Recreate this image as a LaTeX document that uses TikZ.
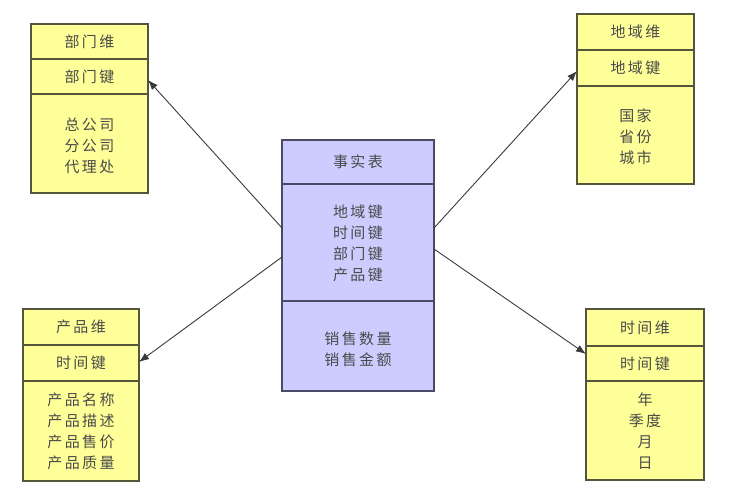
\documentclass[tikz,border=0pt]{standalone}
\usepackage{fontspec}
\newfontfamily\cjk[LetterSpace=16]{Noto Sans CJK SC}
\usetikzlibrary{arrows.meta}
\definecolor{yfill}{HTML}{FFFF99}
\definecolor{yline}{HTML}{55553A}
\definecolor{bfill}{HTML}{CCCCFF}
\definecolor{bline}{HTML}{4A4A66}
\definecolor{txt}{HTML}{4A4A4A}
\definecolor{arr}{HTML}{3A3A3A}
\tikzset{
  ybox/.style={draw=yline, fill=yfill, line width=1.2pt},
  bbox/.style={draw=bline, fill=bfill, line width=1.2pt},
  ydiv/.style={draw=yline, line width=1.2pt},
  bdiv/.style={draw=bline, line width=1.2pt},
  lbl/.style={text=txt, font=\cjk\fontsize{15}{21}\selectfont, align=center, inner sep=0pt},
  conn/.style={draw=arr, line width=0.9pt, -{Latex[length=10pt,width=7.5pt]}}
}
\begin{document}
\begin{tikzpicture}[x=1pt,y=-1pt]
\useasboundingbox (0,0) rectangle (733,499);
% top-left: department dimension
\path[ybox] (31,24) rectangle (148,193);
\draw[ydiv] (31,59) -- (148,59) (31,94) -- (148,94);
\node[lbl] (tlT) at (89.5,41.5) {部门维};
\node[lbl] (tlK) at (89.5,76.5) {部门键};
\node[lbl] (tlB) at (89.5,146) {总公司\\分公司\\代理处};
\coordinate (tlE) at (148,80);
% top-right: region dimension
\path[ybox] (577,14) rectangle (694,184);
\draw[ydiv] (577,50) -- (694,50) (577,86) -- (694,86);
\node[lbl] (trT) at (635.5,32) {地域维};
\node[lbl] (trK) at (635.5,68) {地域键};
\node[lbl] (trB) at (635.5,137) {国家\\省份\\城市};
\coordinate (trE) at (577,71);
% bottom-left: product dimension
\path[ybox] (23,309) rectangle (139,481);
\draw[ydiv] (23,345) -- (139,345) (23,381) -- (139,381);
\node[lbl] (blT) at (81,327) {产品维};
\node[lbl] (blK) at (81,363) {时间键};
\node[lbl] (blB) at (81,431) {产品名称\\产品描述\\产品售价\\产品质量};
\coordinate (blE) at (139,362);
% bottom-right: time dimension
\path[ybox] (586,309) rectangle (704,480);
\draw[ydiv] (586,346) -- (704,346) (586,381) -- (704,381);
\node[lbl] (brT) at (645,327.5) {时间维};
\node[lbl] (brK) at (645,363.5) {时间键};
\node[lbl] (brB) at (645,431) {年\\季度\\月\\日};
\coordinate (brE) at (586,354);
% centre: fact table
\path[bbox] (282,140) rectangle (434,391);
\draw[bdiv] (282,184) -- (434,184) (282,301) -- (434,301);
\node[lbl] (cT) at (358,162) {事实表};
\node[lbl] (cK) at (358,243) {地域键\\时间键\\部门键\\产品键};
\node[lbl] (cM) at (358,349) {销售数量\\销售金额};
\coordinate (cLU) at (282,228);
\coordinate (cLD) at (282,257);
\coordinate (cRU) at (434,228);
\coordinate (cRD) at (434,249);
% connectors
\draw[conn] (cLU) -- (tlE);
\draw[conn] (cLD) -- (blE);
\draw[conn] (cRU) -- (trE);
\draw[conn] (cRD) -- (brE);
\end{tikzpicture}
\end{document}
